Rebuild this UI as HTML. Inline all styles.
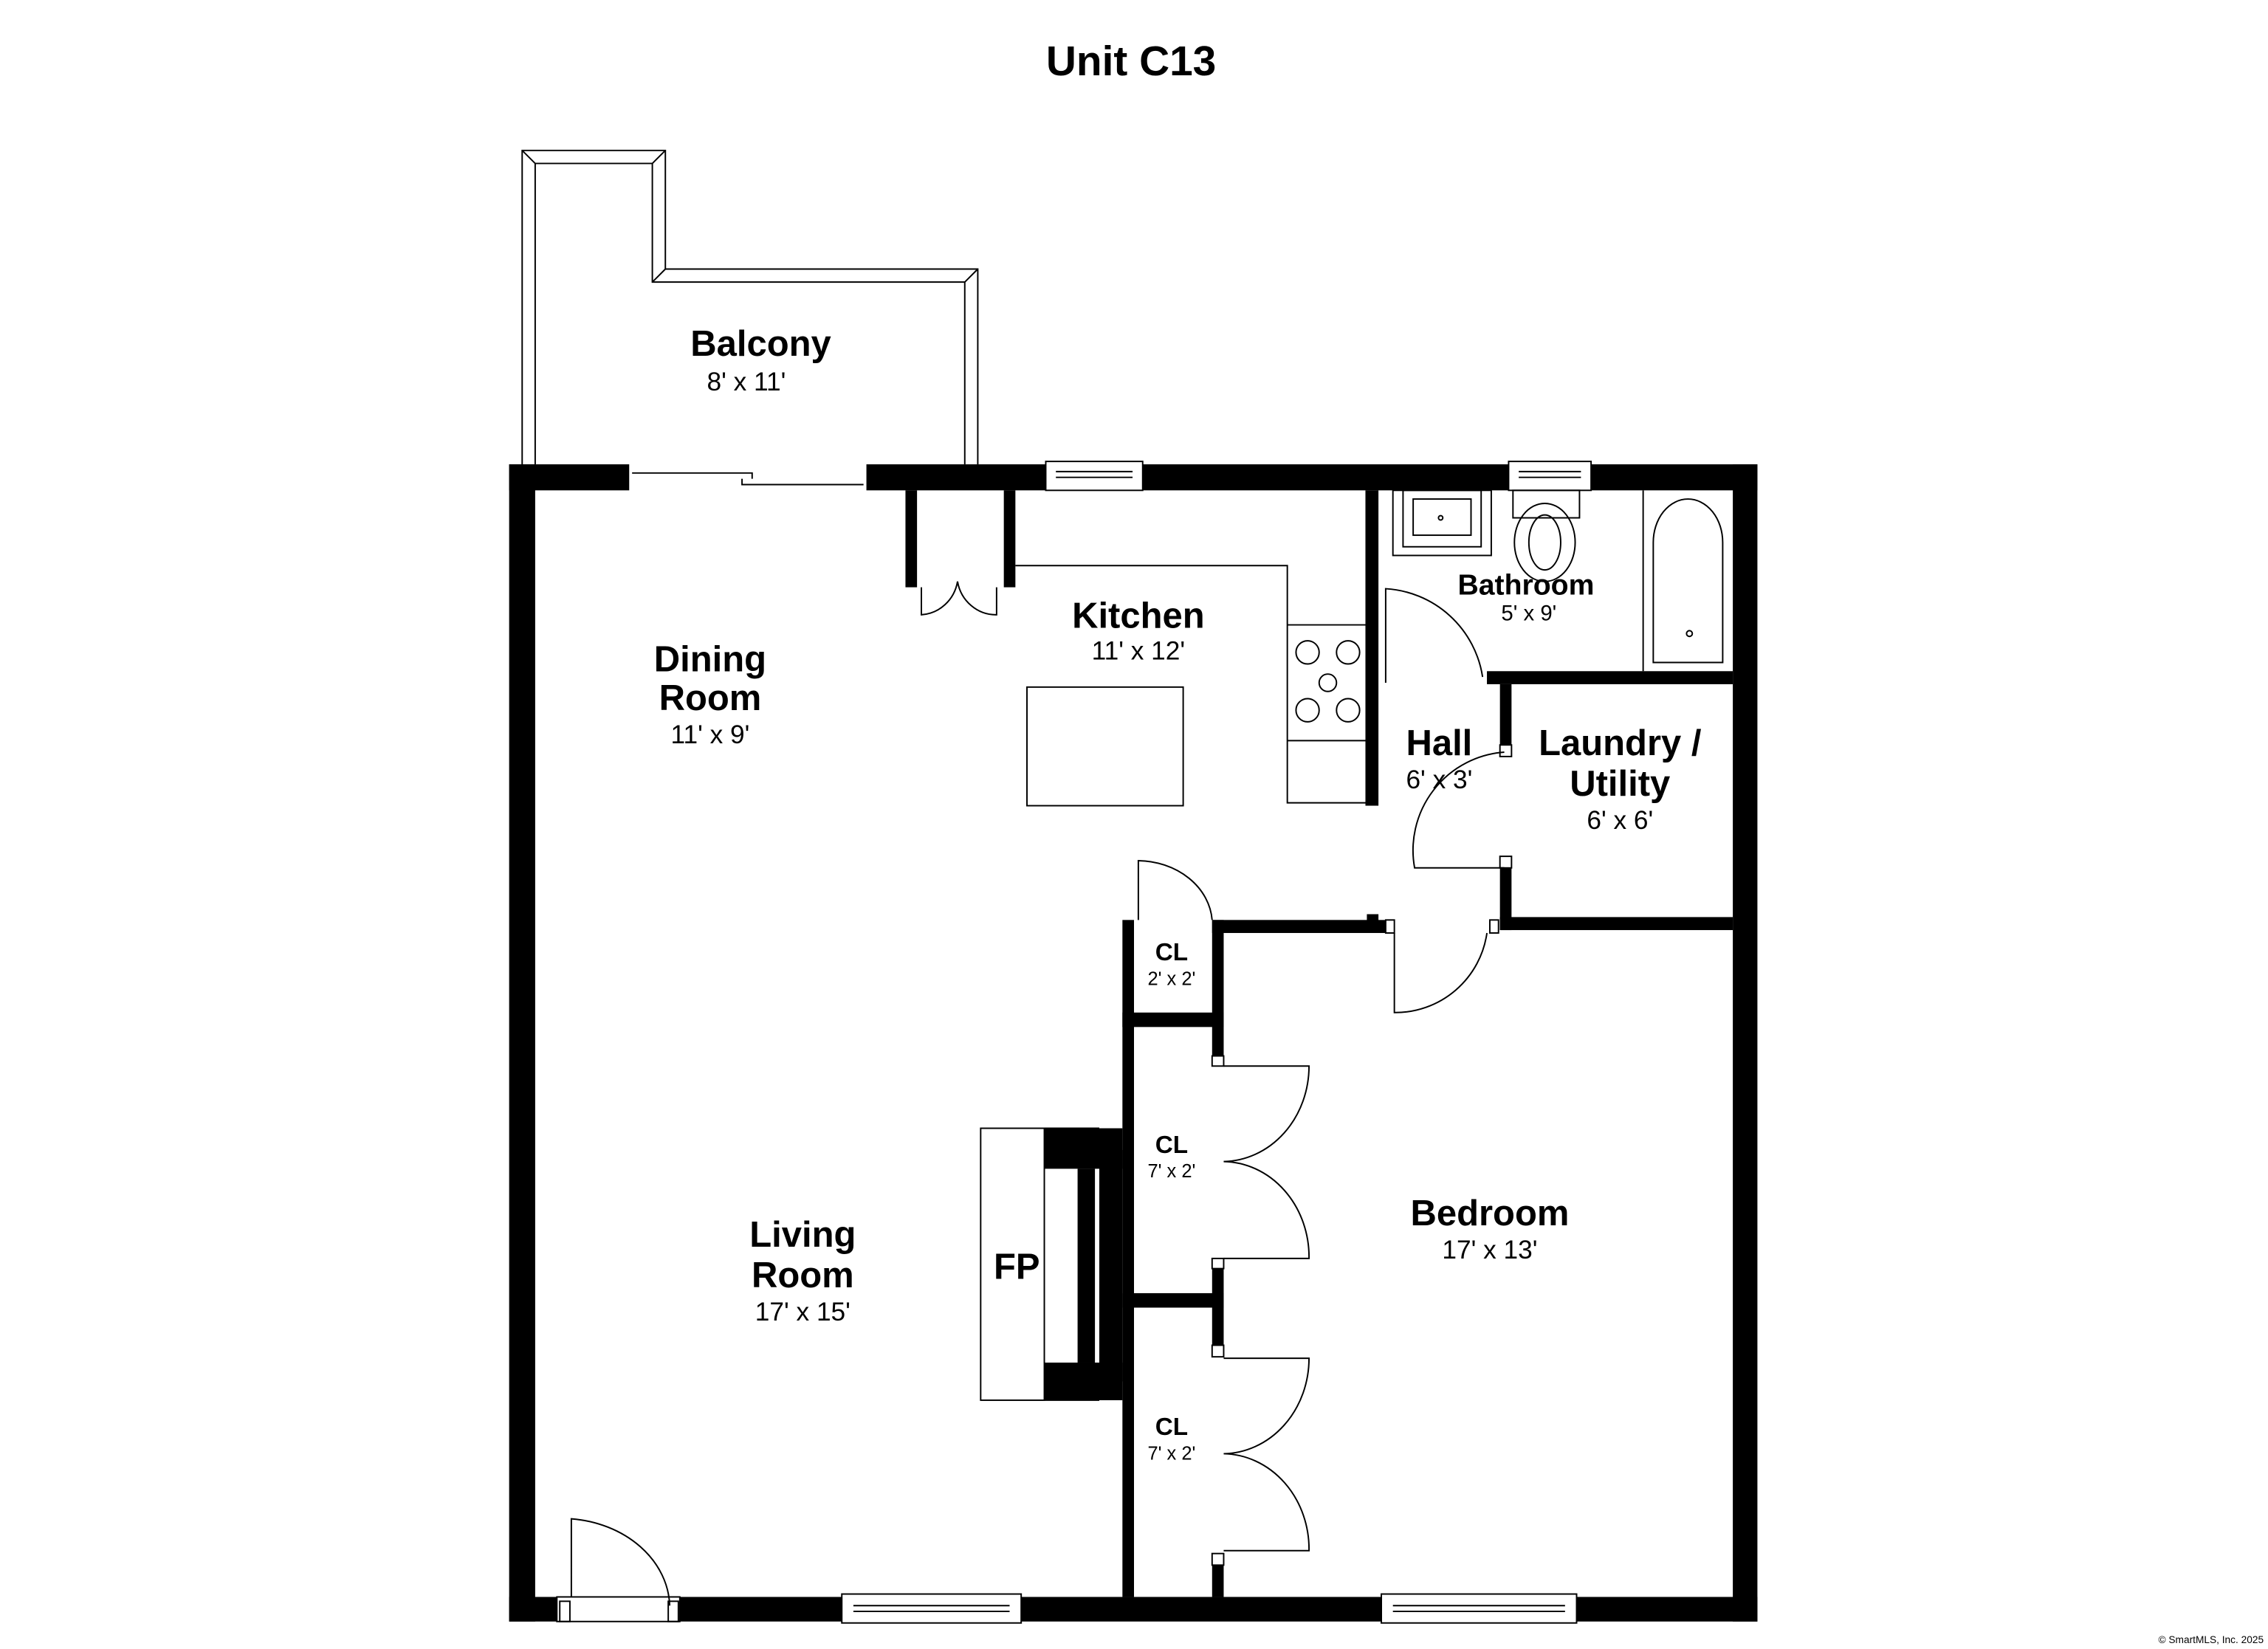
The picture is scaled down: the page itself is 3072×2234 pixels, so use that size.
<!DOCTYPE html>
<html><head><meta charset="utf-8"><style>
html,body{margin:0;padding:0;background:#fff;}
svg{display:block;}
text{font-family:"Liberation Sans",Arial,sans-serif;fill:#000;}
.n{font-weight:bold;font-size:25px;}
.d{font-size:18px;}
.s{font-weight:bold;font-size:17px;}
.sd{font-size:13px;}
</style></head><body>
<svg width="3072" height="2234" viewBox="0 0 1568 1140" preserveAspectRatio="none" xmlns="http://www.w3.org/2000/svg">
<rect width="1568" height="1140" fill="#fff"/>
<text x="782" y="52" text-anchor="middle" font-weight="bold" font-size="29">Unit C13</text>

<!-- balcony -->
<g fill="none" stroke="#000" stroke-width="1">
<path d="M361,321 V104 H460 V186 H676 V321"/>
<path d="M370,321 V113 H451 V195 H667 V321"/>
<path d="M361,104 L370,113 M460,104 L451,113 M460,186 L451,195 M676,186 L667,195"/>
</g>
<text class="n" x="526" y="246" text-anchor="middle">Balcony</text>
<text class="d" x="516" y="270" text-anchor="middle">8' x 11'</text>

<!-- outer walls -->
<g fill="#000">
<rect x="352" y="321" width="83" height="18"/>
<rect x="599" y="321" width="616" height="18"/>
<rect x="352" y="321" width="18" height="800"/>
<rect x="1198" y="321" width="17" height="800"/>
<rect x="352" y="1104" width="33" height="17"/>
<rect x="470" y="1104" width="745" height="17"/>
<!-- interior -->
<rect x="626" y="339" width="8" height="67"/>
<rect x="694" y="339" width="8" height="67"/>
<rect x="944" y="339" width="9" height="218"/>
<rect x="1028" y="464" width="170" height="9"/>
<rect x="1037" y="473" width="8" height="42"/>
<rect x="1037" y="600" width="8" height="43"/>
<rect x="1037" y="634" width="161" height="9"/>
<rect x="838" y="636" width="120" height="9"/>
<rect x="945" y="632" width="8" height="8"/>
<rect x="776" y="636" width="8" height="468"/>
<rect x="838" y="636" width="8" height="94"/>
<rect x="776" y="700" width="70" height="10"/>
<rect x="776" y="894" width="70" height="10"/>
<rect x="838" y="877" width="8" height="53"/>
<rect x="838" y="1082" width="8" height="22"/>
<!-- fireplace -->
<rect x="722" y="780" width="54" height="28"/>
<rect x="722" y="942" width="54" height="26"/>
<rect x="745" y="808" width="12" height="134"/>
<rect x="760" y="795" width="16" height="160"/>
</g>
<g fill="none" stroke="#000" stroke-width="1">
<!-- sliding door -->
<path d="M437,327 H520 V331 M513,331 V335 H597"/>
<!-- windows -->
<rect x="723" y="319" width="67" height="20" fill="#fff"/><path d="M730,326 H783 M730,330 H783"/>
<rect x="1043" y="319" width="57" height="20" fill="#fff"/><path d="M1050,326 H1093 M1050,330 H1093"/>
<rect x="582" y="1102" width="124" height="20" fill="#fff"/><path d="M590,1110 H698 M590,1114 H698"/>
<rect x="955" y="1102" width="135" height="20" fill="#fff"/><path d="M963,1110 H1082 M963,1114 H1082"/>
<!-- entry door -->
<rect x="385" y="1104" width="85" height="17" fill="#fff"/>
<path d="M395,1104 V1050 A75,62 0 0 1 463,1110"/>
<rect x="387" y="1107" width="7" height="14"/><rect x="462" y="1107" width="7" height="14"/>
<!-- pantry doors -->
<path d="M637,406 V425 A27,28 0 0 0 662,402 A27,28 0 0 0 689,425 V406"/>
<!-- kitchen counter -->
<path d="M702,391 H890 V555 H946 M890,432 H946 M890,512 H946"/>
<circle cx="904" cy="451" r="8"/><circle cx="932" cy="451" r="8"/><circle cx="918" cy="472" r="6"/>
<circle cx="904" cy="491" r="8"/><circle cx="932" cy="491" r="8"/>
<rect x="710" y="475" width="108" height="82"/>
<!-- bathroom -->
<path d="M958,472 V407 A72,72 0 0 1 1025,468"/>
<rect x="963" y="339" width="68" height="45"/><rect x="970" y="339" width="54" height="39"/><rect x="977" y="345" width="40" height="25"/>
<circle cx="996" cy="358" r="1.5"/>
<rect x="1046" y="339" width="46" height="19"/>
<ellipse cx="1068" cy="375" rx="21" ry="27"/><ellipse cx="1068" cy="375" rx="11" ry="19"/>
<path d="M1136,339 V464"/>
<path d="M1143,458 V375 A24,30 0 0 1 1191,375 V458 Z"/>
<circle cx="1168" cy="438" r="2"/>
<!-- hall/laundry door -->
<path d="M1040,600 H978 A68,68 0 0 1 1040,520"/>
<rect x="1037" y="515" width="8" height="8"/><rect x="1037" y="592" width="8" height="8"/>
<!-- bedroom door -->
<path d="M964,645 V700 A64,64 0 0 0 1028,645"/>
<rect x="958" y="636" width="6" height="9"/><rect x="1030" y="636" width="6" height="9"/>
<!-- CL 2x2 door -->
<path d="M787,636 V595 A52,44 0 0 1 838,636"/>
<!-- closet doors -->
<path d="M846,737 H905 A60,66 0 0 1 846,803 A60,66 0 0 1 905,870 H846"/>
<path d="M846,939 H905 A60,66 0 0 1 846,1005 A60,66 0 0 1 905,1072 H846"/>
<rect x="838" y="730" width="8" height="7"/><rect x="838" y="870" width="8" height="7"/>
<rect x="838" y="930" width="8" height="8"/><rect x="838" y="1074" width="8" height="8"/>
<!-- fireplace hearth -->
<rect x="678" y="780" width="44" height="188"/>
<path d="M722,780 H760 M722,968 H760"/>
</g>

<text class="n" x="491" y="464" text-anchor="middle">Dining</text>
<text class="n" x="491" y="491" text-anchor="middle">Room</text>
<text class="d" x="491" y="514" text-anchor="middle">11' x 9'</text>
<text class="n" x="787" y="434" text-anchor="middle">Kitchen</text>
<text class="d" x="787" y="456" text-anchor="middle">11' x 12'</text>
<text x="1055" y="411" text-anchor="middle" font-weight="bold" font-size="20">Bathroom</text>
<text x="1057" y="429" text-anchor="middle" font-size="15">5' x 9'</text>
<text class="n" x="995" y="522" text-anchor="middle">Hall</text>
<text class="d" x="995" y="545" text-anchor="middle">6' x 3'</text>
<text class="n" x="1120" y="522" text-anchor="middle">Laundry /</text>
<text class="n" x="1120" y="550" text-anchor="middle">Utility</text>
<text class="d" x="1120" y="573" text-anchor="middle">6' x 6'</text>
<text class="s" x="810" y="664" text-anchor="middle">CL</text>
<text class="sd" x="810" y="681" text-anchor="middle">2' x 2'</text>
<text class="s" x="810" y="797" text-anchor="middle">CL</text>
<text class="sd" x="810" y="814" text-anchor="middle">7' x 2'</text>
<text class="s" x="810" y="992" text-anchor="middle">CL</text>
<text class="sd" x="810" y="1009" text-anchor="middle">7' x 2'</text>
<text class="n" x="1030" y="847" text-anchor="middle">Bedroom</text>
<text class="d" x="1030" y="870" text-anchor="middle">17' x 13'</text>
<text class="n" x="555" y="862" text-anchor="middle">Living</text>
<text class="n" x="555" y="890" text-anchor="middle">Room</text>
<text class="d" x="555" y="913" text-anchor="middle">17' x 15'</text>
<text class="n" x="703" y="884" text-anchor="middle">FP</text>
<text x="1565" y="1136" text-anchor="end" font-size="7" fill="#555">© SmartMLS, Inc. 2025</text>
</svg>
</body></html>
